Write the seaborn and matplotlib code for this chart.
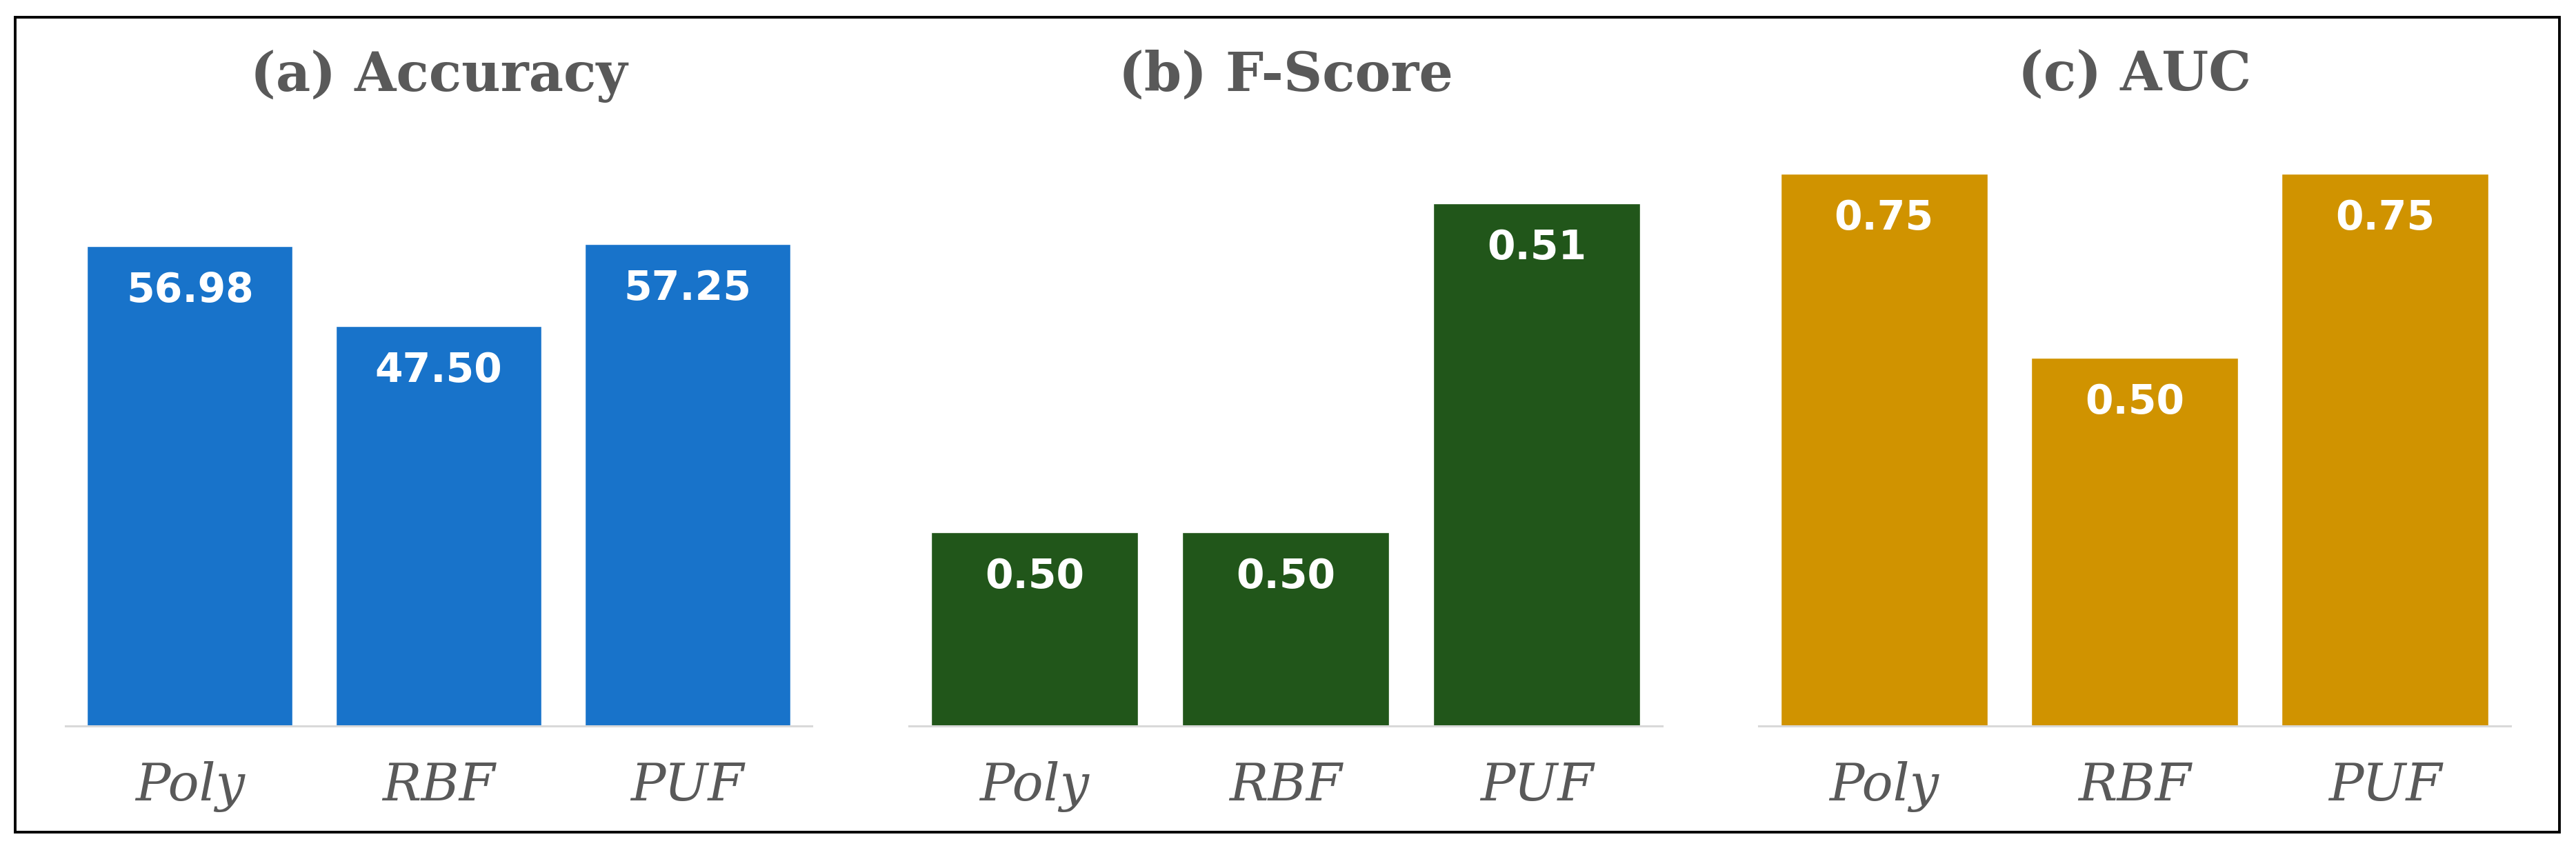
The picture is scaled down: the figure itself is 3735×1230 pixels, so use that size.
import matplotlib

matplotlib.use("Agg")
import matplotlib.pyplot as plt
import seaborn as sns
from matplotlib.patches import Rectangle

models = ["Poly", "RBF", "PUF"]
accuracy = [56.98, 47.50, 57.25]
f_score = [0.50, 0.50, 0.51]
auc = [0.75, 0.50, 0.75]

titles = ["(a) Accuracy", "(b) F-Score", "(c) AUC"]
colors = ["#1873CA", "#21561A", "#D09300"]
ylims = [(0, 69.83), (0.4941, 0.5120), (0, 0.7987)]

TEXT_GREY = "#595959"
AXIS_GREY = "#D9D9D9"

sns.set_theme(style="white")

fig = plt.figure(figsize=(37.35, 12.30), dpi=100)

# axes placement in figure fractions (left, width)
lefts = [0.02543, 0.35288, 0.68273]
widths = [0.2897, 0.2924, 0.2918]
bottom, height = 0.1439, 0.6935

for values, title, color, ylim, left, w in zip(
    [accuracy, f_score, auc], titles, colors, ylims, lefts, widths
):
    ax = fig.add_axes([left, bottom, w, height])
    sns.barplot(
        x=models, y=values, color=color, saturation=1, width=0.826, ax=ax
    )
    ax.set_xlim(-0.5, 2.5)
    ax.set_ylim(*ylim)
    ax.bar_label(
        ax.containers[0],
        fmt="{:.2f}",
        padding=-67,
        color="white",
        fontsize=42,
        fontweight="bold",
        family="DejaVu Sans",
    )
    ax.set_title(
        title,
        fontsize=56,
        fontweight="bold",
        family="DejaVu Serif",
        color=TEXT_GREY,
        pad=49,
    )
    ax.set_yticks([])
    ax.set_ylabel("")
    ax.tick_params(axis="x", length=0, pad=37)
    for lbl in ax.get_xticklabels():
        lbl.set_family("DejaVu Serif")
        lbl.set_style("italic")
        lbl.set_fontsize(54)
        lbl.set_color(TEXT_GREY)
    for side in ["top", "left", "right"]:
        ax.spines[side].set_visible(False)
    ax.spines["bottom"].set_color(AXIS_GREY)
    ax.spines["bottom"].set_linewidth(2.2)

# black frame around the whole figure
fig.patches.append(
    Rectangle(
        (0.00589, 0.0187),
        0.98768,
        0.9610,
        transform=fig.transFigure,
        fill=False,
        edgecolor="black",
        linewidth=2.8,
    )
)

fig.savefig("out.png", dpi=100, facecolor="white")
